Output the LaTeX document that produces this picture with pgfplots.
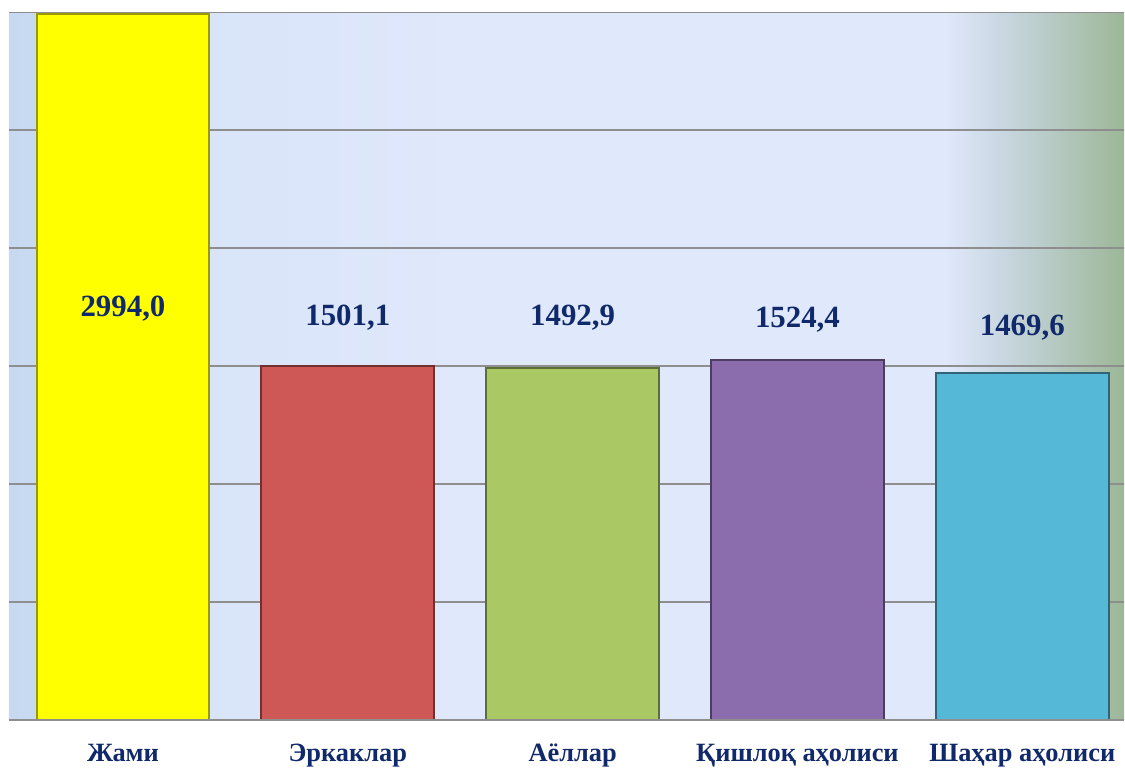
\documentclass[border=0pt]{standalone}
\usepackage{fontspec}
\setmainfont{Liberation Serif}
\usepackage{pgfplots}
\pgfplotsset{compat=1.18}
\definecolor{navy}{HTML}{10296A}
\definecolor{gridgray}{HTML}{8E8E8E}
\definecolor{bgA}{HTML}{C6D9F1}
\definecolor{bgB}{HTML}{D8E4F9}
\definecolor{bgC}{HTML}{E0E8FB}
\definecolor{bgD}{HTML}{C9D7E2}
\definecolor{bgE}{HTML}{9CB797}
\definecolor{cyel}{HTML}{FFFF00}
\definecolor{cred}{HTML}{CD5855}
\definecolor{cgrn}{HTML}{AAC864}
\definecolor{cpur}{HTML}{8B6DAE}
\definecolor{cblu}{HTML}{55B8D7}
% bounding box of the path maps to 25bp..75bp
\pgfdeclarehorizontalshading{plotbg}{100bp}{
  color(0bp)=(bgA); color(25bp)=(bgA); color(33bp)=(bgB); color(45bp)=(bgC);
  color(67bp)=(bgC); color(69.5bp)=(bgD); color(75bp)=(bgE); color(100bp)=(bgE)}
\begin{document}
\begin{tikzpicture}
\begin{axis}[
  scale only axis,
  width=1116bp, height=708bp,
  xmin=-0.507, xmax=4.453,
  ymin=0, ymax=3000,
  ybar, bar width=173bp, bar shift=0pt,
  axis background/.style={shading=plotbg},
  axis line style={draw=none},
  ytick={0,500,...,3000}, yticklabels={},
  major tick length=0pt,
  ymajorgrids, grid style={gridgray, line width=1.8bp},
  xtick={0,1,2,3,4},
  xticklabels={Жами, Эркаклар, Аёллар, Қишлоқ аҳолиси, Шаҳар аҳолиси},
  x tick label style={font=\bfseries\fontsize{26.5}{26.5}\selectfont, text=navy, anchor=base, yshift=-42bp},
  nodes near coords,
  nodes near coords style={font=\bfseries\fontsize{31}{31}\selectfont, text=navy, anchor=center},
  /pgf/number format/assume math mode=true,
  /pgf/number format/fixed, /pgf/number format/fixed zerofill,
  /pgf/number format/precision=1, /pgf/number format/use comma,
  /pgf/number format/1000 sep={},
  clip=false,
]
\addplot[fill=cyel, draw=cyel!60!black, line width=2bp, nodes near coords style={yshift=-295bp}] coordinates {(0,2994.0)};
\addplot[fill=cred, draw=cred!55!black, line width=2bp, nodes near coords style={yshift=48bp}] coordinates {(1,1501.1)};
\addplot[fill=cgrn, draw=cgrn!55!black, line width=2bp, nodes near coords style={yshift=50bp}] coordinates {(2,1492.9)};
\addplot[fill=cpur, draw=cpur!55!black, line width=2bp, nodes near coords style={yshift=41bp}] coordinates {(3,1524.4)};
\addplot[fill=cblu, draw=cblu!55!black, line width=2bp, nodes near coords style={yshift=46bp}] coordinates {(4,1469.6)};
\draw[gridgray, line width=1.8bp] (axis cs:-0.507,0) -- (axis cs:4.453,0);
\end{axis}
\useasboundingbox ([xshift=-9bp,yshift=-47bp]current axis.south west) rectangle ([yshift=12.5bp]current axis.north east);
\end{tikzpicture}
\end{document}
